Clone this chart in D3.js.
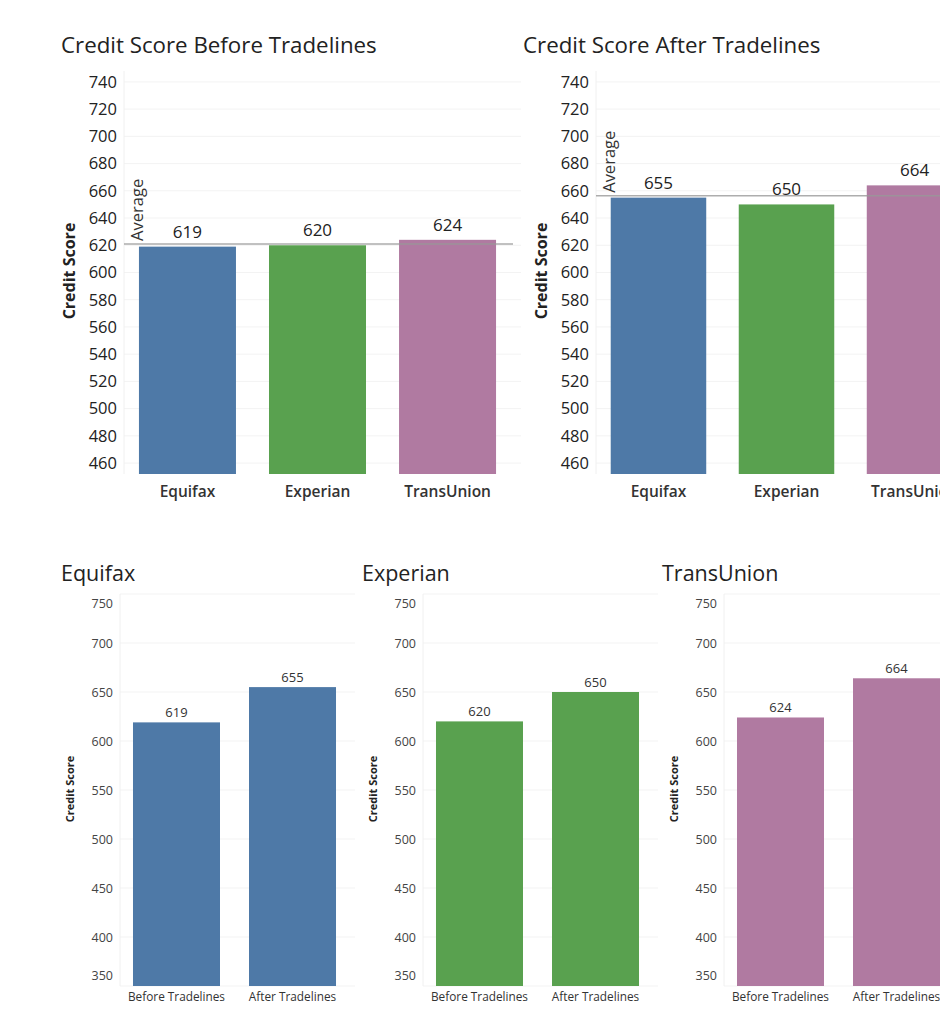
<!DOCTYPE html>
<html>
<head>
<meta charset="utf-8">
<script src="https://cdn.jsdelivr.net/npm/d3@7"></script>
<style>
  html, body { margin: 0; padding: 0; background: #fff; overflow: hidden; }
  svg { display: block; font-family: "Open Sans", "Noto Sans", sans-serif; }
</style>
</head>
<body>
<svg id="chart" width="940" height="1024"></svg>
<script>
// ---- data ----
const categories = ["Equifax", "Experian", "TransUnion"];
const categoryColors = ["#4E79A7", "#59A14F", "#B07AA1"];
const beforeValues = [619, 620, 624];
const afterValues = [655, 650, 664];
const phases = ["Before Tradelines", "After Tradelines"];
const topTicks = [460, 480, 500, 520, 540, 560, 580, 600, 620, 640, 660, 680, 700, 720, 740];
const bottomTicks = [350, 400, 450, 500, 550, 600, 650, 700, 750];
const topTitles = ["Credit Score Before Tradelines", "Credit Score After Tradelines"];
const axisTitle = "Credit Score";
const averageLabel = "Average";

const svg = d3.select("#chart");

// ---- top charts ----
function topChart(values, title, x0, x1, titleX) {
  const g = svg.append("g");
  const y = d3.scaleLinear().domain([452, 748]).range([474, 71]);
  const x = d3.scaleBand().domain(categories).range([x0, x1])
    .paddingInner(0.254).paddingOuter(0.115);

  g.append("text").attr("x", titleX).attr("y", 53)
    .attr("font-size", 22.3).attr("fill", "#222").text(title);

  // grid
  g.selectAll(".grid").data(topTicks).enter().append("line")
    .attr("x1", x0).attr("x2", x1 + 10)
    .attr("y1", d => y(d)).attr("y2", d => y(d))
    .attr("stroke", "#f3f3f3").attr("stroke-width", 1);
  g.append("line").attr("x1", x0).attr("x2", x0).attr("y1", 71).attr("y2", 474)
    .attr("stroke", "#f0f0f0");

  const ax = g.append("g").attr("transform", `translate(${x0},0)`)
    .call(d3.axisLeft(y).tickValues(topTicks).tickSize(0).tickPadding(7));
  ax.select(".domain").remove();
  ax.selectAll("text").attr("font-size", 16.5).attr("fill", "#222")
    .attr("font-family", "'Open Sans', sans-serif");

  g.append("text")
    .attr("transform", `translate(${x0 - 49},271) rotate(-90)`)
    .attr("text-anchor", "middle").attr("font-size", 16).attr("font-weight", "bold")
    .attr("fill", "#222").text(axisTitle);

  g.selectAll(".bar").data(values).enter().append("rect")
    .attr("x", (d, i) => x(categories[i]))
    .attr("width", x.bandwidth())
    .attr("y", d => y(d))
    .attr("height", d => y(452) - y(d))
    .attr("fill", (d, i) => categoryColors[i]);

  g.selectAll(".val").data(values).enter().append("text")
    .attr("x", (d, i) => x(categories[i]) + x.bandwidth() / 2)
    .attr("y", d => y(d) - 9)
    .attr("text-anchor", "middle").attr("font-size", 17).attr("fill", "#222")
    .text(d => d);

  const avg = d3.mean(values);
  g.append("line").attr("x1", x0).attr("x2", x1 + 2)
    .attr("y1", y(avg)).attr("y2", y(avg))
    .attr("stroke", "#999").attr("stroke-opacity", 0.8).attr("stroke-width", 1.5);
  g.append("text")
    .attr("transform", `translate(${x0 + 19},${y(avg) - 3}) rotate(-90)`)
    .attr("font-size", 16.5).attr("fill", "#333").text(averageLabel);

  g.selectAll(".cat").data(categories).enter().append("text")
    .attr("x", d => x(d) + x.bandwidth() / 2).attr("y", 497)
    .attr("text-anchor", "middle").attr("font-size", 15.5).attr("font-weight", 600)
    .attr("fill", "#333").text(d => d);
}

topChart(beforeValues, topTitles[0], 124, 511, 61);
topChart(afterValues, topTitles[1], 596, 977, 523);

// ---- bottom charts ----
function bottomChart(ci, x0, titleX) {
  const g = svg.append("g");
  const vals = [beforeValues[ci], afterValues[ci]];
  const y = d3.scaleLinear().domain([350, 750]).range([986, 594]);
  const x = d3.scaleBand().domain(phases).range([x0, x0 + 229])
    .paddingInner(0.25).paddingOuter(0.112);

  g.append("text").attr("x", titleX).attr("y", 581)
    .attr("font-size", 21.5).attr("fill", "#222").text(categories[ci]);

  g.selectAll(".grid").data(bottomTicks).enter().append("line")
    .attr("x1", x0).attr("x2", x0 + 235)
    .attr("y1", d => y(d)).attr("y2", d => y(d))
    .attr("stroke", "#f3f3f3");
  g.append("line").attr("x1", x0).attr("x2", x0).attr("y1", 594).attr("y2", 986)
    .attr("stroke", "#f0f0f0");

  const ax = g.append("g").attr("transform", `translate(${x0},0)`)
    .call(d3.axisLeft(y).tickValues(bottomTicks).tickSize(0).tickPadding(7));
  ax.select(".domain").remove();
  ax.selectAll("text").attr("font-size", 12.5).attr("fill", "#444")
    .attr("font-family", "'Open Sans', sans-serif")
    .attr("dy", d => d === 750 ? "1.05em" : d === 350 ? "-0.5em" : "0.32em");

  g.append("text")
    .attr("transform", `translate(${x0 - 46},789) rotate(-90)`)
    .attr("text-anchor", "middle").attr("font-size", 11).attr("font-weight", "bold")
    .attr("fill", "#222").text(axisTitle);

  g.selectAll(".bar").data(vals).enter().append("rect")
    .attr("x", (d, i) => x(phases[i]))
    .attr("width", x.bandwidth())
    .attr("y", d => y(d))
    .attr("height", d => y(350) - y(d))
    .attr("fill", categoryColors[ci]);

  g.selectAll(".val").data(vals).enter().append("text")
    .attr("x", (d, i) => x(phases[i]) + x.bandwidth() / 2)
    .attr("y", d => y(d) - 5)
    .attr("text-anchor", "middle").attr("font-size", 13).attr("fill", "#333")
    .text(d => d);

  g.selectAll(".cat").data(phases).enter().append("text")
    .attr("x", d => x(d) + x.bandwidth() / 2).attr("y", 1001)
    .attr("text-anchor", "middle").attr("font-size", 11.8)
    .attr("fill", "#333").text(d => d);
}

bottomChart(0, 120, 61);
bottomChart(1, 423, 362);
bottomChart(2, 724, 662);
</script>
</body>
</html>
